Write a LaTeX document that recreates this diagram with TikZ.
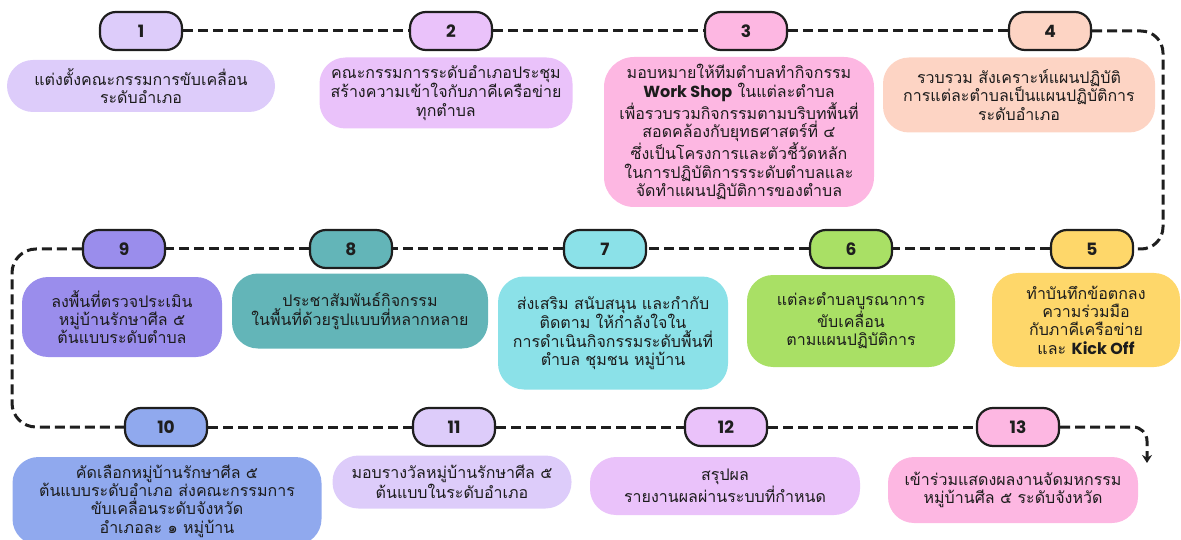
\documentclass[tikz,border=0pt]{standalone}
\usepackage{fontspec}
\setmainfont{Loma}[Script=Thai]
\newfontfamily\popfont{Poppins}
\usetikzlibrary{arrows.meta}
\definecolor{cA}{HTML}{DDCCFA}
\definecolor{cB}{HTML}{EAC2FA}
\definecolor{cC}{HTML}{FDB7E2}
\definecolor{cD}{HTML}{FDD4C4}
\definecolor{cE}{HTML}{FED76A}
\definecolor{cF}{HTML}{A9E065}
\definecolor{cG}{HTML}{8BE1E8}
\definecolor{cH}{HTML}{63B5B8}
\definecolor{cI}{HTML}{9A8DEC}
\definecolor{cJ}{HTML}{90A9EE}
\definecolor{txt}{HTML}{1C1C1C}
\definecolor{ink}{HTML}{1E1E1E}
\tikzset{
  badge/.style={draw=ink, line width=2.2pt, rounded corners=16pt, minimum width=82pt, minimum height=38pt, inner sep=0pt, font=\popfont\bfseries\fontsize{17}{17}\selectfont, text=ink},
  infobox/.style={rounded corners=26pt, align=center, inner sep=0pt, font=\fontsize{16}{18.4}\selectfont, text=txt},
  flow/.style={line width=3pt, dash pattern=on 10pt off 5pt, draw=ink},
}
\begin{document}
\begin{tikzpicture}[x=1pt,y=-1pt]
\useasboundingbox (0,0) rectangle (1181,540);
% info boxes
\node[infobox, fill=cA, minimum width=268pt, minimum height=52pt] (t1) at (141,86) {แต่งตั้งคณะกรรมการขับเคลื่อน\\ระดับอำเภอ};
\node[infobox, fill=cB, minimum width=253pt, minimum height=71pt] (t2) at (446,93) {คณะกรรมการระดับอำเภอประชุม\\สร้างความเข้าใจกับภาคีเครือข่าย\\ทุกตำบล};
\node[infobox, fill=cC, minimum width=270pt, minimum height=150pt, rounded corners=30pt] (t3) at (739,132) {มอบหมายให้ทีมตำบลทำกิจกรรม\\{\popfont\bfseries Work Shop} ในแต่ละตำบล\\เพื่อรวบรวมกิจกรรมตามบริบทพื้นที่\\สอดคล้องกับยุทธศาสตร์ที่ ๔\\ซึ่งเป็นโครงการและตัวชี้วัดหลัก\\ในการปฏิบัติการรระดับตำบลและ\\จัดทำแผนปฏิบัติการของตำบล};
\node[infobox, fill=cD, minimum width=272pt, minimum height=75pt] (t4) at (1019,95) {รวบรวม สังเคราะห์แผนปฏิบัติ\\การแต่ละตำบลเป็นแผนปฏิบัติการ\\ระดับอำเภอ};
\node[infobox, fill=cE, minimum width=188pt, minimum height=94pt] (t5) at (1086,320) {ทำบันทึกข้อตกลง\\ความร่วมมือ\\กับภาคีเครือข่าย\\และ {\popfont\bfseries Kick Off}};
\node[infobox, fill=cF, minimum width=208pt, minimum height=92pt] (t6) at (851,321) {แต่ละตำบลบูรณาการ\\ขับเคลื่อน\\ตามแผนปฏิบัติการ};
\node[infobox, fill=cG, minimum width=230pt, minimum height=113pt] (t7) at (613,333) {ส่งเสริม สนับสนุน และกำกับ\\ติดตาม ให้กำลังใจใน\\การดำเนินกิจกรรมระดับพื้นที่\\ตำบล ชุมชน หมู่บ้าน};
\node[infobox, fill=cH, minimum width=256pt, minimum height=75pt] (t8) at (360,311) {ประชาสัมพันธ์กิจกรรม\\ในพื้นที่ด้วยรูปแบบที่หลากหลาย};
\node[infobox, fill=cI, minimum width=200pt, minimum height=80pt] (t9) at (122,317) {ลงพื้นที่ตรวจประเมิน\\หมู่บ้านรักษาศีล ๕\\ต้นแบบระดับตำบล};
\node[infobox, fill=cJ, minimum width=309pt, minimum height=88pt] (t10) at (167,501) {คัดเลือกหมู่บ้านรักษาศีล ๕\\ต้นแบบระดับอำเภอ ส่งคณะกรรมการ\\ขับเคลื่อนระดับจังหวัด\\อำเภอละ ๑ หมู่บ้าน};
\node[infobox, fill=cA, minimum width=239pt, minimum height=53pt] (t11) at (452,482) {มอบรางวัลหมู่บ้านรักษาศีล ๕\\ต้นแบบในระดับอำเภอ};
\node[infobox, fill=cB, minimum width=270pt, minimum height=58pt] (t12) at (725,486) {สรุปผล\\รายงานผลผ่านระบบที่กำหนด};
\node[infobox, fill=cC, minimum width=250pt, minimum height=66pt] (t13) at (1013,490) {เข้าร่วมแสดงผลงานจัดมหกรรม\\หมู่บ้านศีล ๕ ระดับจังหวัด};
% badges
\node[badge, fill=cA] (b1) at (141,31) {1};
\node[badge, fill=cB] (b2) at (451,31) {2};
\node[badge, fill=cC] (b3) at (746,31) {3};
\node[badge, fill=cD] (b4) at (1050,31) {4};
\node[badge, fill=cE] (b5) at (1092,249) {5};
\node[badge, fill=cF] (b6) at (851,249) {6};
\node[badge, fill=cG] (b7) at (605,249) {7};
\node[badge, fill=cH] (b8) at (351,249) {8};
\node[badge, fill=cI] (b9) at (124,249) {9};
\node[badge, fill=cJ] (b10) at (166,427) {10};
\node[badge, fill=cA] (b11) at (454,427) {11};
\node[badge, fill=cB] (b12) at (726,427) {12};
\node[badge, fill=cC] (b13) at (1018,427) {13};
% corner coordinates
\coordinate (rc) at (1163,140);
\coordinate (lc) at (12,340);
\coordinate (endc) at (1147,463);
% connectors
\draw[flow] (b1.east) -- (b2.west);
\draw[flow] (b2.east) -- (b3.west);
\draw[flow] (b3.east) -- (b4.west);
\draw[flow, rounded corners=22pt] (b4.east) -| (rc) |- (b5.east);
\draw[flow] (b5.west) -- (b6.east);
\draw[flow] (b6.west) -- (b7.east);
\draw[flow] (b7.west) -- (b8.east);
\draw[flow] (b8.west) -- (b9.east);
\draw[flow, rounded corners=24pt] (b9.west) -| (lc) |- (b10.west);
\draw[flow] (b10.east) -- (b11.west);
\draw[flow] (b11.east) -- (b12.west);
\draw[flow] (b12.east) -- (b13.west);
\draw[flow, rounded corners=14pt, -{Stealth[length=8pt,width=10pt]}] (b13.east) -| (endc);
\end{tikzpicture}
\end{document}
